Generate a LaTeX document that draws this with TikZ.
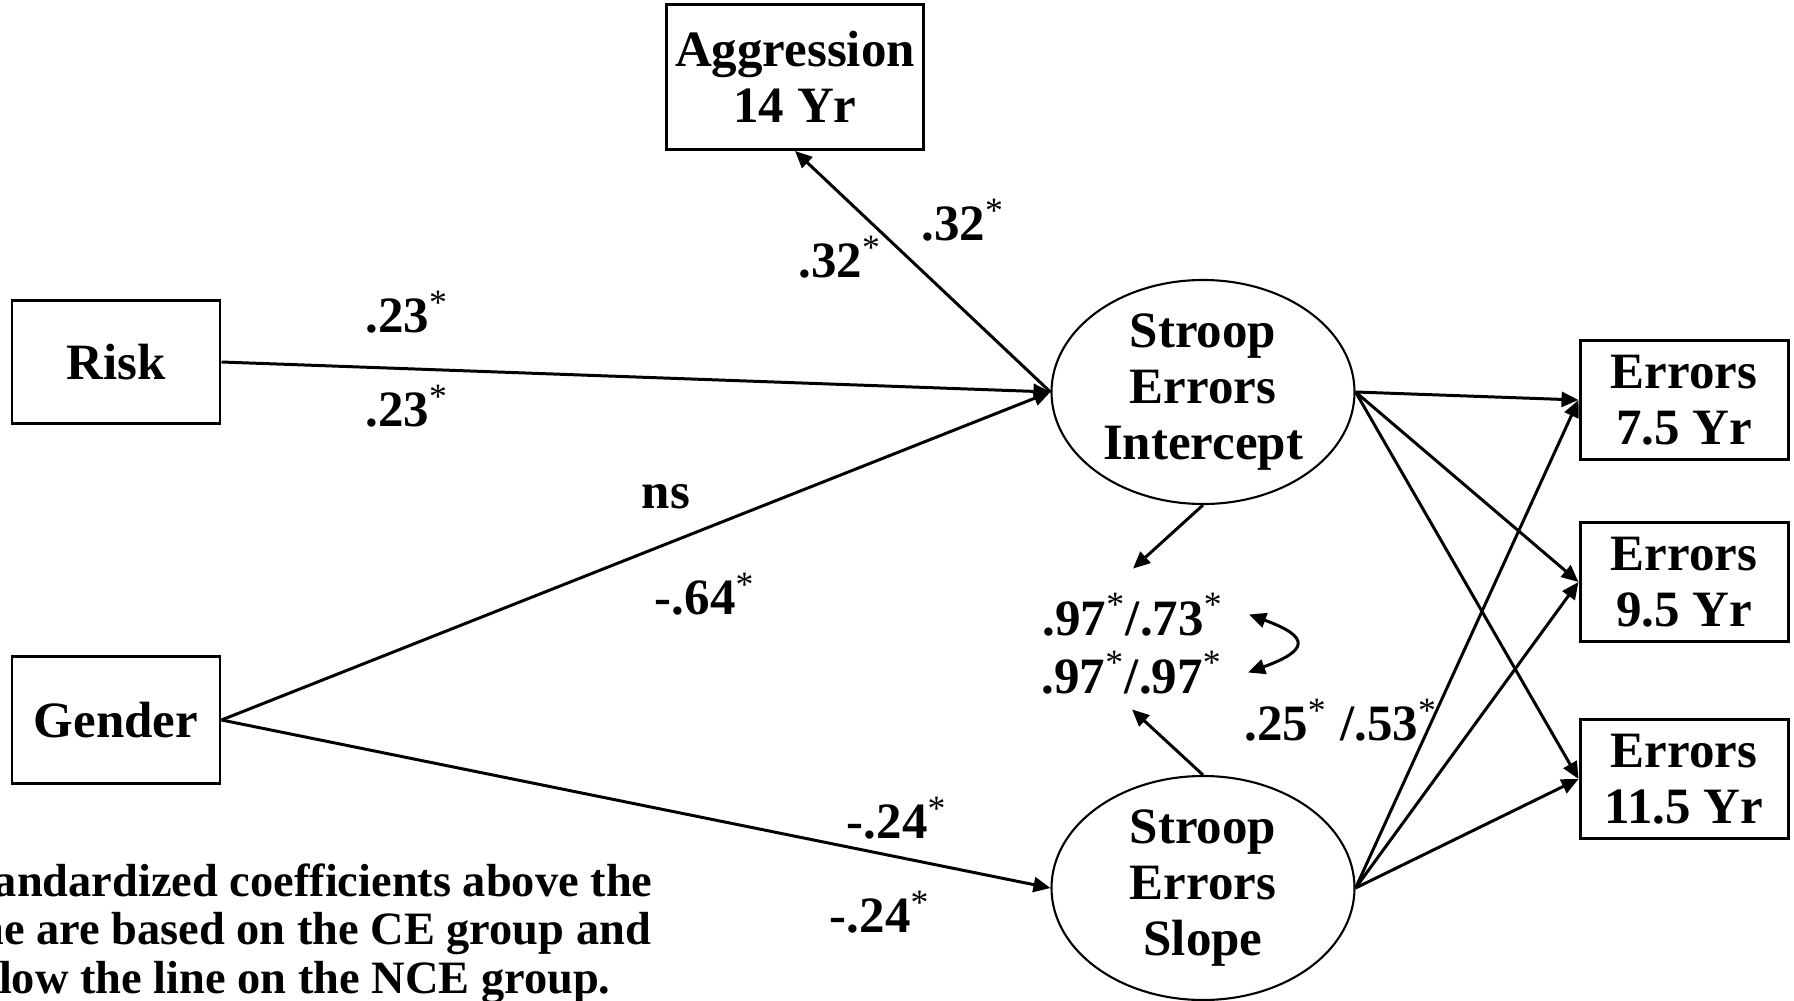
\documentclass[tikz,border=0pt]{standalone}
\usepackage{fontspec}
\setmainfont{Liberation Serif}
\usetikzlibrary{positioning,arrows.meta,shapes.geometric}
\newcommand{\sigstar}{\textsuperscript{\mdseries *}}
\tikzset{
  obs/.style={draw, line width=0.85pt, align=center, inner sep=1pt,
    font=\fontsize{14.5pt}{16pt}\selectfont\bfseries},
  lat/.style={draw, ellipse, line width=0.6pt, align=center, inner sep=0pt,
    minimum width=30.3mm, minimum height=22.4mm,
    font=\fontsize{14.5pt}{16pt}\selectfont\bfseries},
  arr/.style={-{Triangle[length=1.7mm,width=1.5mm]}, line width=0.85pt},
  dbl/.style={{Triangle[length=1.7mm,width=1.5mm]}-{Triangle[length=1.7mm,width=1.5mm]},
    line width=0.85pt},
  coef/.style={inner sep=0pt, font=\fontsize{14.5pt}{16pt}\selectfont\bfseries},
  note/.style={inner sep=0pt, align=left, font=\fontsize{13.2pt}{13.8pt}\selectfont\bfseries},
}

\begin{document}
\begin{tikzpicture}[x=0.1mm, y=-0.1mm]
    \useasboundingbox (0,0) rectangle (1794,1001);
    \node[obs, minimum width=20.8mm, minimum height=12.3mm] (risk) at (116,362) {Risk};
    \node[obs, minimum width=20.8mm, minimum height=12.7mm, below=23mm of risk] (gender) {Gender};
    \node[obs, minimum width=25.7mm, minimum height=14.5mm] (agg) at (795,77) {Aggression\\14 Yr};
    % latent intercept and slope
    \node[lat] (ice) at (1203,392) {Stroop\\Errors\\Intercept};
    \node[lat] (slp) at (1203,888) {Stroop\\Errors\\Slope};
    % observed errors at each age
    \node[obs, minimum width=20.8mm, minimum height=11.9mm] (e1) at (1684,400) {Errors\\7.5 Yr};
    \node[obs, minimum width=20.8mm, minimum height=11.9mm, below=6mm of e1] (e2) {Errors\\9.5 Yr};
    \node[obs, minimum width=20.8mm, minimum height=11.9mm, below=7.5mm of e2] (e3) {Errors\\11.5 Yr};
    \draw[arr] (risk.east) -- (ice.west);
    \draw[arr] (gender.east) -- (ice.west);
    \draw[arr] (gender.east) -- (slp.west);
    \draw[arr] (ice.west) -- (agg.south);
    \draw[arr] (ice.east) -- (e1.west);
    \draw[arr] (ice.east) -- (e2.west);
    \draw[arr] (ice.east) -- (e3.west);
    \draw[arr] (slp.east) -- (e1.west);
    \draw[arr] (slp.east) -- (e2.west);
    \draw[arr] (slp.east) -- (e3.west);
    % intercept-slope correlation
    \node[coef, anchor=base, inner xsep=2.5mm, inner ysep=2.4mm] (c1) at (1133,635) {.97\sigstar/.73\sigstar};
    \node[coef, anchor=base, inner xsep=2.5mm, inner ysep=1.5mm] (c2) at (1132,693) {.97\sigstar/.97\sigstar};
    \draw[arr] (ice.south) -- (c1.north);
    \draw[arr] (slp.north) -- (c2.south);
    \draw[dbl] (c1.east) to[out=-20, in=20, distance=6.5mm] (c2.east);
    % coefficients, CE above / NCE below
    \node[coef] (r1) at (407,312) {.23\sigstar};
    \node[coef] (r2) at (407,406) {.23\sigstar};
    \node[coef] (g1) at (666,497) {ns};
    \node[coef] (g2) at (705,594) {-.64\sigstar};
    \node[coef] (a1) at (840,257) {.32\sigstar};
    \node[coef] (a2) at (963,220) {.32\sigstar};
    \node[coef] (s1) at (897,818) {-.24\sigstar};
    \node[coef] (s2) at (880,912) {-.24\sigstar};
    \node[coef] (q1) at (1341,720) {.25\sigstar{} /.53\sigstar};
    \node[note, anchor=north west] (fn) at (-48,863)
      {Standardized coefficients above the\\line are based on the CE group and\\below the line on the NCE group.};
  \end{tikzpicture}
\end{document}
